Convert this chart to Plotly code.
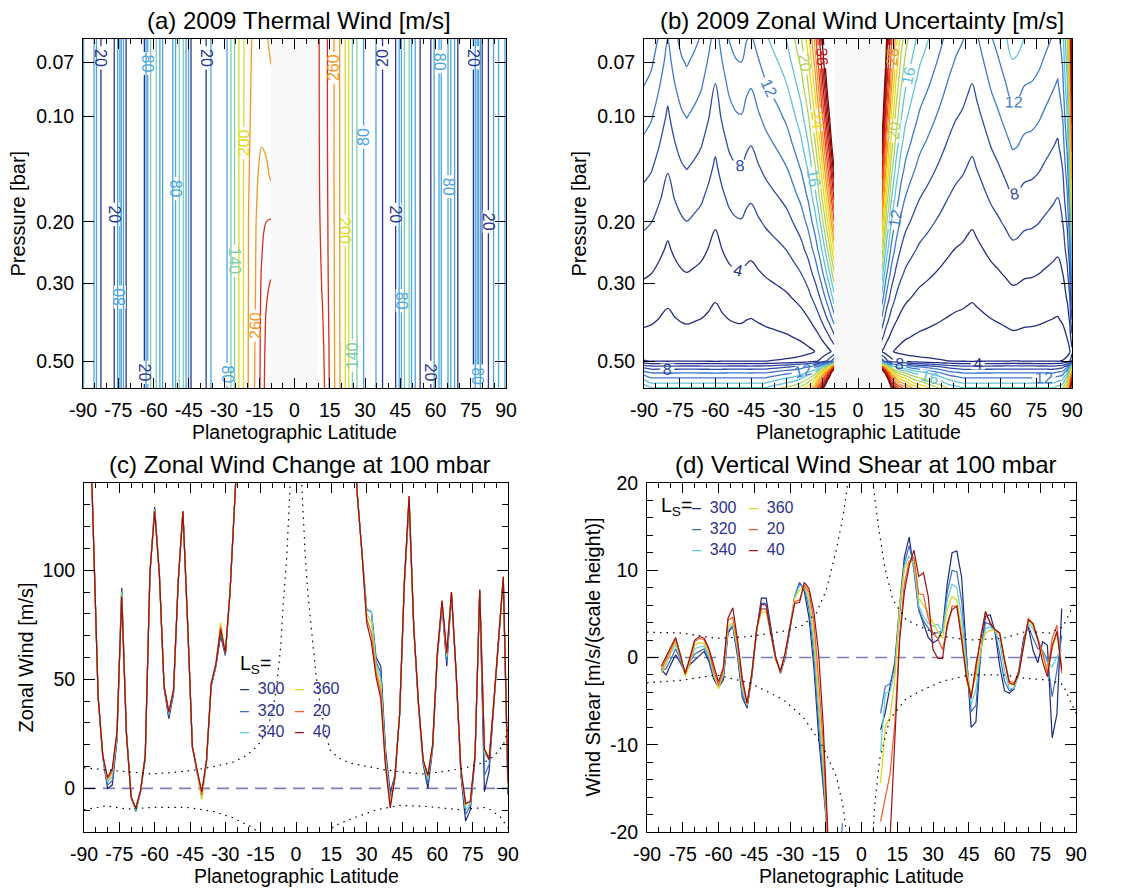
import plotly.graph_objects as go

W, H = 1134, 890
FONT = "Liberation Sans, Arial, Helvetica, sans-serif"
NAVY_TEXT = "#2E3192"

# ------------------------------------------------------------------ panel (a)  2009 thermal wind
P_A = [0.06, 0.10, 0.15, 0.20, 0.30, 0.45, 0.60]
LAT_A_S = [-90, -88, -86, -84, -82, -80, -78, -76, -74, -72, -70, -68, -66, -64, -62, -60, -58,
           -56, -54, -52, -50, -48, -46, -44, -42, -40, -38, -36, -34, -32, -30, -28, -26, -24]
U_A_S = [78, 95, 100, 42, 15, 4.5, 9, 26, 90, 25, -4, -9, -1, 15, 99, 127, 98,
         47, 35, 45, 95, 127, 76, 19, 8.5, -1.5, 13, 48, 57, 73, 62, 90, 132, 165]
EQ_LAT_A_S = [-22, -20, -18, -16, -14, -12, -10]
EQ_U_A_S = [
    [195, 215, 232, 242, 238, 232, 225],
    [195, 218, 238, 250, 252, 250, 240],
    [196, 222, 245, 258, 268, 265, 258],
    [196, 225, 250, 262, 280, 290, 292],
    [196, 225, 250, 264, 295, 315, 322],
    [196, 226, 252, 266, 300, 328, 340],
    [196, 226, 252, 268, 302, 333, 348],
]
EQ_LAT_A_N = [10, 12, 14, 16, 18, 20, 22]
EQ_U_A_N = [
    [325, 305, 290, 270, 245, 220, 195],
    [325, 306, 290, 270, 245, 220, 195],
    [326, 307, 291, 270, 245, 220, 195],
    [328, 309, 292, 271, 246, 220, 195],
    [335, 315, 294, 272, 246, 221, 195],
    [345, 326, 298, 274, 247, 221, 195],
    [350, 333, 300, 275, 248, 222, 195],
]
LAT_A_N = [24, 26, 28, 30, 32, 34, 36, 38, 40, 42, 44, 46, 48, 50, 52, 54, 56,
           58, 60, 62, 64, 66, 68, 70, 72, 74, 76, 78, 80, 82, 84, 86, 88, 90]
U_A_N = [150, 118, 90, 76, 68, 54, 42, 12, -7, 5, 34, 95, 134, 74, 39, 13, 5,
         20, 62, 86, 60, 90, 53, 9, -8, -6, 15, 91, 15, 13, 40, 68, 97, 75]
# one colour per contour level: -10, 20, 50, ..., 380 m/s (step 30)
CS_A = ["#2A3590", "#3B6EC2", "#47A0E2", "#5CC5E4", "#72CEC4", "#9AD17F", "#C8D83A",
        "#F1DB15", "#F6B81B", "#F3861F", "#EE5520", "#DA241E", "#B01212", "#850909"]
LEVELS_A = (-10, 380)  # labels on 20, 80, 140, ... ; unlabelled on -10, 50, 110, ...

# ------------------------------------------------------------------ panel (b)  wind uncertainty
P_B = [0.06, 0.07, 0.08, 0.10, 0.12, 0.14, 0.17, 0.20, 0.24, 0.28, 0.33, 0.38, 0.43, 0.47,
       0.50, 0.52, 0.54, 0.56, 0.58, 0.60]
PROF_B = [0.962, 0.895, 0.837, 0.740, 0.661, 0.594, 0.510, 0.439, 0.360, 0.293, 0.222, 0.161,
          0.107, 0.068, 0.040, 0.024, 0.008, 0.0, 0.0, 0.0]
BOTPROF_B = [0, 0, 0, 0, 0, 0, 0, 0, 0, 0, 0, 0, 0, 0, 1.4, 6.5, 9.8, 12.2, 14.2, 16.5]
LAT_B_S = [-90, -87, -84, -80, -77, -74, -72, -69, -66, -63, -60, -57, -54, -51, -49, -47, -45,
           -42, -39, -36, -33, -30, -27, -24, -21, -18, -16, -14, -12, -10]
ERR_SCALE_B_S = [14.5, 13.8, 12.4, 10.4, 12.0, 13.2, 13.6, 13.0, 12.3, 11.0, 9.6, 11.2, 12.6,
                 13.3, 13.4, 12.6, 12.2, 13.2, 14.2, 15.0, 15.8, 16.8, 18.5, 20.5, 24.0, 30.0,
                 36.0, 44.0, 54.0, 68.0]
BOT_SCALE_B_S = [1.1, 1.0, 1.0, 1.0, 1.0, 1.0, 1.0, 1.0, 1.0, 1.0, 1.0, 1.0, 1.0, 1.0, 1.0, 1.0,
                 1.0, 1.0, 1.0, 1.05, 1.1, 1.15, 1.2, 1.3, 1.45, 1.7, 2.1, 2.6, 3.4, 5.0]
LAT_B_N = [10, 11, 12, 14, 16, 18, 20, 23, 26, 29, 32, 35, 38, 41, 44, 46, 48, 50, 53, 56, 59,
           62, 65, 67, 70, 73, 76, 79, 82, 84, 86, 88, 89, 90]
ERR_SCALE_B_N = [60, 50, 42, 32, 26, 22, 19.5, 17.5, 15.8, 14.8, 13.8, 12.8, 11.8, 11.0, 10.5,
                 10.0, 9.6, 10.2, 11.2, 12.3, 13.2, 14.3, 15.5, 15.3, 14.5, 14.3, 13.8, 13.0,
                 12.3, 11.8, 13.5, 19.0, 26.0, 50.0]
BOT_SCALE_B_N = [5.0, 4.2, 3.5, 2.5, 2.1, 1.9, 1.8, 1.6, 1.5, 1.4, 1.3, 1.2, 1.1, 1.05, 1.0, 1.0,
                 1.0, 1.0, 1.0, 1.0, 1.0, 1.0, 1.0, 1.0, 1.0, 1.0, 1.0, 1.0, 1.0, 1.05, 1.1, 1.4,
                 2.0, 3.0]
CS_B = ["#232C80", "#2A3890", "#2F47A0", "#3356B0", "#3B69C0", "#4590D8", "#56B8E2", "#68C9D2",
        "#8ACD96", "#B5D550", "#DCDB23", "#F1D818", "#F5BC1B", "#F59F1D", "#F37E1F", "#EE5A20",
        "#E5351F", "#D21F1D", "#B51414", "#980D0D", "#7E0808"]
LEVELS_B = (0, 40)  # contour every 2 m/s, labels on 4, 8, 12, ...
NO_DATA_LAT = 10

# ------------------------------------------------------------------ series labels / colours
LS_LABELS = ["300", "320", "340", "360", "20", "40"]
LS_COLORS = ["#1C2A7E", "#3E6CC8", "#5CCFD8", "#D9D71C", "#F45A28", "#9A1212"]

# ------------------------------------------------------------------ panel (c)  zonal wind at 100 mbar
LAT_C = [-88, -86, -84, -82, -80, -78, -76, -74, -72, -70, -68, -66, -64, -62, -60, -58, -56,
         -54, -52, -50, -48, -46, -44, -42, -40, -38, -36, -34, -32, -30, -28, -26, -24,
         0,
         24, 26, 28, 30, 32, 34, 36, 38, 40, 42, 44, 46, 48, 50, 52, 54, 56, 58, 60, 62, 64,
         66, 68, 70, 72, 74, 76, 78, 80, 82, 84, 86, 88, 90]
WIND_C_300 = [190, 118, 42, 14, 0, 1.5, 22, 92, 26, -4, -10.5, -1.5, 14, 99, 129, 98, 46, 32, 43,
              95, 127, 75, 19, 7.5, -3, 12, 47, 56, 70, 61, 90, 132, 175,
              None,
              175, 135, 108, 82, 81, 60, 56, 18, -2, 6, 34, 93, 131, 73, 38, 11, 0, 18, 60, 84,
              56, 89, 52, 6, -15, -10, 14, 90, -1.5, 8, 39, 67, 96, -3]
WIND_C_320 = [190, 118, 42, 14, 1.5, 3.5, 23, 91, 26, -4, -10, -1.5, 14, 99, 128.5, 98, 46, 33, 44,
              95, 127, 75, 19, 7.5, -4, 12, 47, 56, 71, 61, 90, 132, 175,
              None,
              175, 135, 108, 82, 81, 58, 53, 16, -4, 6, 34, 94, 132, 73, 38, 12, 2, 19, 61, 85,
              58, 89, 52, 7, -12, -8, 14, 90, 6, 11, 39, 67, 96, -2]
WIND_C_340 = [190, 118, 42, 14, 3, 5.5, 24, 90, 25, -4, -10, -1, 15, 99, 128, 98, 47, 34, 44,
              95, 127, 76, 19, 8, -5, 12, 48, 57, 73, 62, 90, 132, 175,
              None,
              175, 135, 108, 82, 81, 57, 50, 14, -6, 5, 34, 94, 133, 74, 39, 12, 4, 19, 61, 85,
              60, 90, 53, 8, -10, -7, 15, 91, 16, 13, 40, 68, 97, 0]
WIND_C_360 = [190, 118, 42, 15, 3.8, 7, 25, 89, 25, -4, -9.5, -1, 15, 99, 127.5, 98, 47, 35, 45,
              95, 127, 76, 19, 8, -5, 13, 48, 57, 76, 62, 90, 132, 175,
              None,
              175, 135, 108, 80, 76, 55, 47, 13, -7, 5, 34, 95, 133, 74, 39, 13, 5, 20, 62, 86,
              61, 90, 53, 8, -8, -6, 15, 91, 17, 14, 40, 68, 97, 1]
WIND_C_20 = [190, 118, 42, 15, 4.3, 8, 25.5, 88, 25, -4, -9, -1, 15, 99, 127, 98, 47, 35, 45,
             95, 127, 76, 19, 8.5, -3, 13, 48, 57, 74, 62, 90, 132, 175,
             None,
             175, 135, 108, 78, 71, 53, 44, 11, -8, 5, 34, 95, 134, 74, 39, 13, 6, 20, 62, 86,
             62, 90, 53, 9, -7, -6, 15, 91, 18, 14, 40, 68, 97, 2]
WIND_C_40 = [190, 118, 42, 15, 5, 9, 26, 88, 25, -4, -9, -1, 15, 99, 127, 98, 47, 35, 45,
             95, 127, 76, 19, 8.5, -1.5, 13, 48, 57, 73, 62, 90, 132, 175,
             None,
             175, 135, 108, 76, 67, 51, 41, 10, -9, 5, 34, 95, 134, 74, 39, 13, 6, 20, 62, 86,
             62, 90, 53, 9, -7, -6, 15, 91, 18, 13, 40, 68, 97, 3]
ENV_C_UP_LAT = [-90, -80, -70, -61, -50, -42, -35, -27, -22, -18, -15, -12.4, -10, -8.2, -6.5,
                -5.5, -4, -2.8, -2.2, None, 2.2, 2.4, 4, 5, 6.6, 8.5, 10.2, 12, 14.4, 18, 23, 30,
                37, 45, 54, 63, 72, 80, 84, 88, 90]
ENV_C_UP_VAL = [9.4, 8.4, 7.4, 6.6, 7.5, 8.6, 10, 11.9, 14.5, 17.7, 21.5, 26.9, 35, 46.8, 65,
                83.5, 105, 129, 145, None, 145, 140, 105, 90, 74, 52, 39, 28, 17.7, 14, 11.6, 10,
                8.6, 7.5, 6.6, 7.8, 9.4, 12, 14.7, 20, 27]
ENV_C_LO_LAT = [-90, -80.4, -71.9, -60.6, -46.5, -35.2, -26.7, -18.2, -15.5, None, 14.4, 15.8,
                24.3, 34.2, 44.1, 55.4, 69.6, 80.9, 86.5, 90]
ENV_C_LO_VAL = [-9.8, -8.0, -9.5, -8.7, -8.7, -10.5, -13.5, -18.1, -21, None, -21, -17.4, -13.6,
                -9.8, -7.8, -8.3, -9.8, -8.7, -12.8, -18.1]

# ------------------------------------------------------------------ panel (d)  vertical wind shear
LAT_D = [-84, -82, -80, -78, -76, -74, -72, -70, -68, -66, -64, -62, -60, -58, -56, -54, -52,
         -50, -48, -46, -44, -42, -40, -38, -36, -34, -32, -30, -28, -26, -24, -22, -20, -18,
         -16, -14, -12, -10, -8,
         0,
         8, 10, 12, 14, 16, 18, 20, 22, 24, 26, 28, 30, 32, 34, 36, 38, 40, 42, 44, 46, 48, 50,
         52, 54, 56, 58, 60, 62, 64, 66, 68, 70, 72, 74, 76, 78, 80, 82, 84]
SHEAR_D_300 = [-1.4, -2.0, -0.8, 0.3, -0.6, -1.8, -0.8, -0.3, 0.1, 0.7, -0.5, -2.5, -3.4, -2.6,
               2.8, 3.6, 0.1, -4.6, -5.8, -2.2, 3.0, 6.8, 6.8, 3.4, 0.0, -1.8, 0.0, 3.2, 7.0, 8.6,
               7.6, 4.5, -1.0, -9.0, -15.0, -21.0, None, None, None,
               None,
               -8.3, -6.3, -3.3, -0.5, 6.0, 11.5, 13.8, 10.0, 5.5, 3.9, 2.3, 1.7, 2.0, 3.2, 8.5,
               12.0, 12.2, 9.2, 0.9, -8.0, -7.4, 0.5, 4.7, 4.9, 3.0, -1.0, -3.8, -4.1, -3.6, -1.5,
               2.2, 3.5, 0.8, -0.6, 1.8, 1.4, -9.2, -6.5, 5.6]
SHEAR_D_320 = [-1.5, -1.3, -0.2, 1.0, -0.3, -1.9, -0.5, 0.4, 0.7, 1.0, -0.2, -2.2, -3.3, -2.3,
               3.0, 3.6, 0.5, -4.2, -5.6, -2.0, 3.1, 6.2, 6.2, 3.1, -0.1, -1.7, 0.2, 3.3, 7.1, 8.5,
               8.0, 5.5, 0.2, -7.5, -14.0, -21.0, -32.0, -26.0, -19.0,
               None,
               -6.4, -3.3, -3.0, -1.0, 5.0, 10.8, 12.8, 10.5, 5.4, 4.2, 3.4, 2.6, 2.9, 3.0, 7.5,
               10.0, 9.8, 6.5, 0.2, -6.2, -5.5, 0.7, 4.0, 3.8, 3.0, 0.4, -2.7, -3.8, -3.5, -1.8,
               2.0, 3.6, 2.2, 1.0, 0.8, -0.3, -4.5, -1.5, 2.5]
SHEAR_D_340 = [-1.6, -0.8, 0.5, 1.5, 0.0, -2.0, -0.6, 1.0, 1.2, 1.3, 0.2, -2.0, -3.4, -2.0,
               3.3, 3.8, 0.9, -3.8, -5.5, -1.9, 3.2, 5.6, 5.6, 2.9, -0.2, -1.7, 0.3, 3.4, 7.0, 8.2,
               8.2, 6.2, 1.5, -6.0, -13.0, -22.0, None, None, None,
               None,
               -10.8, -4.1, -3.9, -1.5, 5.5, 10.5, 11.6, 10.5, 5.9, 4.7, 3.9, 3.6, 3.8, 2.8, 6.6,
               8.4, 8.0, 4.7, -0.7, -5.4, -3.7, 0.8, 3.3, 3.5, 3.1, 1.8, -1.6, -3.5, -3.6, -2.0,
               1.5, 3.9, 3.3, 2.0, 0.6, -0.6, -1.1, 0.1, 0.9]
SHEAR_D_360 = [-1.8, -0.6, 0.7, 1.8, 0.2, -2.2, -0.6, 1.4, 1.7, 1.6, 0.5, -1.8, -3.6, -1.8,
               3.6, 4.0, 1.2, -3.3, -5.4, -1.8, 3.2, 5.2, 5.2, 2.7, -0.3, -1.6, 0.4, 3.5, 6.8, 7.7,
               8.2, 6.9, 2.8, -4.5, -12.0, -22.0, None, None, None,
               None,
               -14.4, -7.9, -6.8, -2.5, 6.0, 10.2, 11.0, 11.0, 6.8, 5.9, 5.1, 4.0, 3.0, 2.2, 5.5,
               7.0, 6.6, 3.2, -1.4, -4.1, -2.2, 1.0, 2.8, 3.1, 3.1, 2.6, -0.5, -3.0, -3.2, -1.8,
               1.5, 4.3, 3.6, 2.2, 0.3, -1.2, 1.0, 2.7, -0.8]
SHEAR_D_20 = [-1.4, -0.2, 1.0, 2.1, 0.4, -1.9, -0.3, 1.8, 2.2, 2.0, 0.8, -1.4, -3.2, -1.5,
              4.3, 4.6, 1.6, -2.9, -5.3, -1.8, 3.3, 5.6, 5.5, 2.6, -0.2, -1.6, 0.5, 3.6, 6.4, 6.6,
              8.3, 7.5, 4.2, -2.5, -10.0, -22.0, None, None, None,
              None,
              -18.8, -16.0, -13.3, -7.5, 2.5, 8.5, 11.0, 11.5, 7.3, 7.2, 4.5, 2.8, 2.2, 0.9, 3.5,
              5.9, 5.9, 2.5, -2.5, -4.5, -1.5, 2.5, 5.1, 4.0, 3.2, 2.8, -0.2, -2.7, -2.9, -1.6,
              1.5, 4.5, 3.8, 2.2, 0.5, -1.8, 2.2, 3.7, -1.8]
SHEAR_D_40 = [-1.0, 0.2, 1.2, 2.3, 0.3, -1.8, 0.0, 2.0, 2.4, 2.2, 1.0, -1.0, -2.8, -1.2,
              4.5, 5.7, 2.0, -2.4, -5.2, -1.8, 3.2, 6.1, 6.0, 2.8, 0.0, -1.6, 0.6, 3.5, 6.2, 6.3,
              8.6, 7.9, 5.3, 0.5, -8.0, -21.0, None, None, None,
              None,
              None, -32.0, -20.5, -8.0, 2.0, 7.5, 10.5, 12.3, 9.3, 9.7, 7.0, 0.9, -0.1, -0.1, 3.9,
              5.5, 5.9, 2.0, -2.0, -4.7, -0.8, 2.0, 5.3, 3.9, 3.2, 2.8, -0.3, -2.9, -3.1, -1.8,
              1.3, 4.3, 3.9, 2.0, -0.5, -2.2, 1.3, 3.0, -1.4]
ENV_D_UP_LAT = [-90, -75, -61, -47, -33, -24.5, -19, -14.8, -10.6, -7.8, -5.7, -5, None,
                4.3, 4.8, 6.9, 9.7, 13.2, 18.8, 25.8, 34.2, 45.4, 59.4, 69.2, 79, 84.5, 90]
ENV_D_UP_VAL = [2.9, 2.8, 2.2, 2.4, 3.0, 3.7, 5.1, 7.7, 12.3, 16.1, 20, 22.5, None,
                22.5, 20, 15.4, 10.4, 6.6, 4.3, 3.4, 2.4, 2.0, 2.2, 3.0, 2.8, 3.5, 6.6]
ENV_D_LO_LAT = [-90, -75, -61, -47, -33, -24.5, -16.2, -10.6, -7.8, -6.4, -6, None,
                4.5, 4.8, 5.5, 7.6, 11.8, 18.8, 25.8, 34.2, 45.4, 59.4, 69.2, 79, 84.5, 90]
ENV_D_LO_VAL = [-2.9, -2.6, -2.0, -2.9, -4.8, -6.8, -10.2, -13.6, -17, -20, -22, None,
                -22, -20, -17, -11.7, -7.1, -4.7, -3.7, -2.7, -2.0, -2.0, -2.4, -2.6, -3.1, -6.4]

# ------------------------------------------------------------------ axes ticks / text
LAT_TICKS = [-90, -75, -60, -45, -30, -15, 0, 15, 30, 45, 60, 75, 90]
LAT_MINOR = [-85, -80, -70, -65, -55, -50, -40, -35, -25, -20, -10, -5, 5, 10, 20, 25, 35, 40,
             50, 55, 65, 70, 80, 85]
P_TICKS = [0.07, 0.10, 0.20, 0.30, 0.50]
P_TICK_TEXT = ["0.07", "0.10", "0.20", "0.30", "0.50"]
WIND_TICKS = [0, 50, 100]
WIND_MINOR = [-20, -10, 10, 20, 30, 40, 60, 70, 80, 90, 110, 120, 130, 140]
SHEAR_TICKS = [-20, -10, 0, 10, 20]
SHEAR_MINOR = [-18, -16, -14, -12, -8, -6, -4, -2, 2, 4, 6, 8, 12, 14, 16, 18]

TITLES = ["(a) 2009 Thermal Wind [m/s]", "(b) 2009 Zonal Wind Uncertainty [m/s]",
          "(c) Zonal Wind Change at 100 mbar", "(d) Vertical Wind Shear at 100 mbar"]
Y_TITLES = ["Pressure [bar]", "Pressure [bar]", "Zonal Wind [m/s]",
            "Wind Shear [m/s/(scale height)]"]
X_TITLE = "Planetographic Latitude"

# pixel boxes of the four plot areas (left, right, top, bottom)
BOX = [(83, 506, 39, 388), (644, 1072, 39, 388), (84, 508, 483, 832), (647, 1076, 483, 832)]


def txt(v):
    return ("-" + str(-v)) if v < 0 else str(v)


def colorscale(cols):
    n = len(cols) - 1
    return [[i / n, c] for i, c in enumerate(cols)]


fig = go.Figure()


def add_contours(x, y, z, xa, ya, cols, zr, groups):
    for start, size, labelled in groups:
        fig.add_trace(go.Contour(
            x=x, y=y, z=z, xaxis=xa, yaxis=ya,
            colorscale=colorscale(cols), zmin=zr[0], zmax=zr[1], showscale=False,
            autocontour=False,
            contours=dict(coloring="lines", start=start, end=zr[1], size=size,
                          showlabels=labelled,
                          labelfont=dict(size=16, family=FONT)),
            line=dict(width=1.3), hoverinfo="skip"))


# ---- (a) tables built from the arrays above
x_a_s = LAT_A_S + EQ_LAT_A_S
z_a_s = [U_A_S + row for row in EQ_U_A_S]
x_a_n = EQ_LAT_A_N + LAT_A_N
z_a_n = [row + U_A_N for row in EQ_U_A_N]
groups_a = [(-10, 60, False), (20, 60, True)]
add_contours(x_a_s, P_A, z_a_s, "x", "y", CS_A, LEVELS_A, groups_a)
add_contours(x_a_n, P_A, z_a_n, "x", "y", CS_A, LEVELS_A, groups_a)

# ---- (b)
z_b_s = [[e * pr + b * bp for e, b in zip(ERR_SCALE_B_S, BOT_SCALE_B_S)]
         for pr, bp in zip(PROF_B, BOTPROF_B)]
z_b_n = [[e * pr + b * bp for e, b in zip(ERR_SCALE_B_N, BOT_SCALE_B_N)]
         for pr, bp in zip(PROF_B, BOTPROF_B)]
groups_b = [(2, 4, False), (4, 4, True)]
add_contours(LAT_B_S, P_B, z_b_s, "x2", "y2", CS_B, LEVELS_B, groups_b)
add_contours(LAT_B_N, P_B, z_b_n, "x2", "y2", CS_B, LEVELS_B, groups_b)

# ---- (c) and (d) series
WIND_C = [WIND_C_300, WIND_C_320, WIND_C_340, WIND_C_360, WIND_C_20, WIND_C_40]
SHEAR_D = [SHEAR_D_300, SHEAR_D_320, SHEAR_D_340, SHEAR_D_360, SHEAR_D_20, SHEAR_D_40]
for lab, col, yc, yd in zip(LS_LABELS, LS_COLORS, WIND_C, SHEAR_D):
    fig.add_trace(go.Scatter(x=LAT_C, y=yc, xaxis="x3", yaxis="y3", mode="lines", name=lab,
                             line=dict(color=col, width=1.2), connectgaps=False,
                             showlegend=False, hoverinfo="skip"))
    fig.add_trace(go.Scatter(x=LAT_D, y=yd, xaxis="x4", yaxis="y4", mode="lines", name=lab,
                             line=dict(color=col, width=1.2), connectgaps=False,
                             showlegend=False, hoverinfo="skip"))

for xs, ys, xa, ya in [(ENV_C_UP_LAT, ENV_C_UP_VAL, "x3", "y3"), (ENV_C_LO_LAT, ENV_C_LO_VAL, "x3", "y3"),
                       (ENV_D_UP_LAT, ENV_D_UP_VAL, "x4", "y4"), (ENV_D_LO_LAT, ENV_D_LO_VAL, "x4", "y4")]:
    fig.add_trace(go.Scatter(x=xs, y=ys, xaxis=xa, yaxis=ya, mode="lines",
                             line=dict(color="black", width=1.2, dash="1.5px,5px"),
                             connectgaps=False, showlegend=False, hoverinfo="skip"))

# ---- axes
tickfont = dict(size=19.5, family=FONT, color="black")


def dom_x(b):
    return [b[0] / W, b[1] / W]


def dom_y(b):
    return [1 - b[3] / H, 1 - b[2] / H]


def xaxis(i, anchor):
    return dict(domain=dom_x(BOX[i]), anchor=anchor, range=[-90, 90],
                tickmode="array", tickvals=LAT_TICKS, ticktext=[txt(v) for v in LAT_TICKS],
                ticks="inside", ticklen=10, tickwidth=1, tickcolor="black",
                minor=dict(tickmode="array", tickvals=LAT_MINOR, ticks="inside", ticklen=5,
                           tickcolor="black", tickwidth=1, showgrid=False),
                mirror="allticks", showline=True, linecolor="black", linewidth=1,
                showgrid=False, zeroline=False, tickfont=tickfont, ticklabelstandoff=5)


def yaxis_common(i, anchor):
    return dict(domain=dom_y(BOX[i]), anchor=anchor, ticks="inside", ticklen=11, tickwidth=1,
                tickcolor="black", mirror="allticks", showline=True, linecolor="black",
                linewidth=1, showgrid=False, zeroline=False, tickfont=tickfont,
                ticklabelstandoff=4)


ya = yaxis_common(0, "x")
ya.update(type="log", range=[-0.224, -1.221], tickmode="array", tickvals=P_TICKS,
          ticktext=P_TICK_TEXT)
yb = yaxis_common(1, "x2")
yb.update(type="log", range=[-0.224, -1.221], tickmode="array", tickvals=P_TICKS,
          ticktext=P_TICK_TEXT)
yc = yaxis_common(2, "x3")
yc.update(range=[-20, 140], tickmode="array", tickvals=WIND_TICKS,
          ticktext=[txt(v) for v in WIND_TICKS],
          minor=dict(tickmode="array", tickvals=WIND_MINOR, ticks="inside", ticklen=6,
                     tickcolor="black", tickwidth=1, showgrid=False))
yd = yaxis_common(3, "x4")
yd.update(range=[-20, 20], tickmode="array", tickvals=SHEAR_TICKS,
          ticktext=[txt(v) for v in SHEAR_TICKS],
          minor=dict(tickmode="array", tickvals=SHEAR_MINOR, ticks="inside", ticklen=6,
                     tickcolor="black", tickwidth=1, showgrid=False))

# ---- shapes: no-data band and zero lines
shapes = []
for xr, yr in [("x", "y domain"), ("x2", "y2 domain")]:
    shapes.append(dict(type="rect", xref=xr, yref=yr, x0=-NO_DATA_LAT, x1=NO_DATA_LAT, y0=0, y1=1,
                       fillcolor="#F8F8F8", line=dict(width=0), layer="below"))
for xr, yr in [("x3 domain", "y3"), ("x4 domain", "y4")]:
    shapes.append(dict(type="line", xref=xr, yref=yr, x0=0, x1=1, y0=0, y1=0,
                       line=dict(color="#7D80B8", width=1.6, dash="12px,7px"), layer="below"))

# ---- annotations: titles, axis titles, legends
ann = []
for i, t in enumerate(TITLES):
    b = BOX[i]
    cx = (b[0] + b[1]) / 2 + 4
    ann.append(dict(text=t, x=cx / W, y=1 - (b[2] - 19) / H, xref="paper", yref="paper",
                    xanchor="center", yanchor="middle", showarrow=False,
                    font=dict(size=24, family=FONT, color="black")))
    ann.append(dict(text=X_TITLE, x=((b[0] + b[1]) / 2) / W, y=1 - (b[3] + 44) / H, xref="paper",
                    yref="paper", xanchor="center", yanchor="middle", showarrow=False,
                    font=dict(size=19.5, family=FONT, color="black")))
Y_TITLE_X = [17, 578, 25, 592]
for i, t in enumerate(Y_TITLES):
    b = BOX[i]
    ann.append(dict(text=t, x=Y_TITLE_X[i] / W, y=1 - ((b[2] + b[3]) / 2) / H, xref="paper",
                    yref="paper", xanchor="center", yanchor="middle", textangle=-90,
                    showarrow=False, font=dict(size=20, family=FONT, color="black")))

LEGENDS = [dict(title=(238, 664), cols=[238, 293], rows=[688, 710, 731]),
           dict(title=(659, 506), cols=[690, 747], rows=[507, 528, 549])]
for lg in LEGENDS:
    ann.append(dict(text="L<sub>S</sub>=", x=lg["title"][0] / W, y=1 - lg["title"][1] / H,
                    xref="paper", yref="paper", xanchor="left", yanchor="middle",
                    showarrow=False, font=dict(size=19.5, family=FONT, color="black")))
    for k, (lab, col) in enumerate(zip(LS_LABELS, LS_COLORS)):
        cx = lg["cols"][k // 3]
        ry = lg["rows"][k % 3]
        ann.append(dict(text=f"<span style='color:{col}'>\u2013</span>\u00a0\u00a0{lab}",
                        x=cx / W, y=1 - ry / H, xref="paper", yref="paper",
                        xanchor="left", yanchor="middle", showarrow=False,
                        font=dict(size=16, family=FONT, color=NAVY_TEXT)))

fig.update_layout(
    width=W, height=H, margin=dict(l=0, r=0, t=0, b=0, autoexpand=False),
    paper_bgcolor="white", plot_bgcolor="white", showlegend=False,
    font=dict(family=FONT, color="black"),
    xaxis=xaxis(0, "y"), yaxis=ya,
    xaxis2=xaxis(1, "y2"), yaxis2=yb,
    xaxis3=xaxis(2, "y3"), yaxis3=yc,
    xaxis4=xaxis(3, "y4"), yaxis4=yd,
    shapes=shapes, annotations=ann,
)

fig.write_html("out.html")
